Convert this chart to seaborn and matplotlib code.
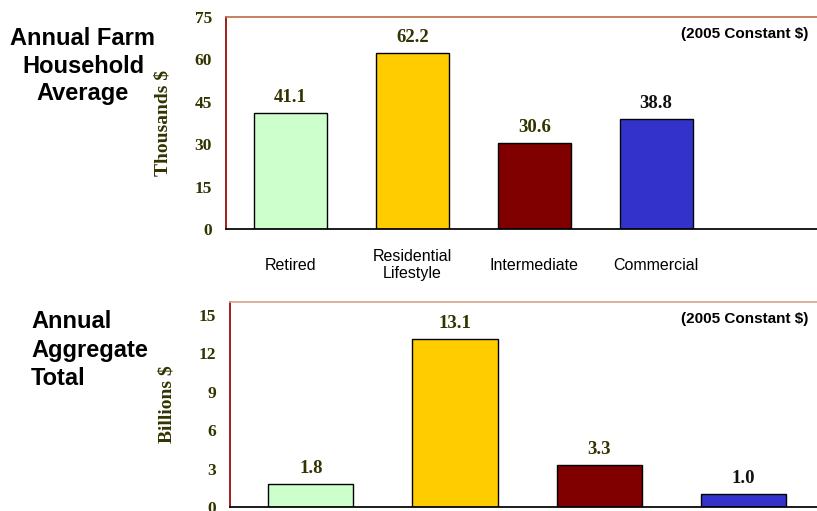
import seaborn as sns
import matplotlib.pyplot as plt

CATEGORIES = ["Retired", "Residential\nLifestyle", "Intermediate", "Commercial"]
AVERAGE_THOUSANDS = [41.1, 62.2, 30.6, 38.8]
AGGREGATE_BILLIONS = [1.8, 13.1, 3.3, 1.0]
AVERAGE_TICKS = [0, 15, 30, 45, 60, 75]
AGGREGATE_TICKS = [0, 3, 6, 9, 12, 15]
COLORS = ["#CCFFCC", "#FFCC00", "#800000", "#3333CC"]
LABEL_COLORS = ["#333300", "#333300", "#333300", "#111111"]

W, H = 817, 511
OLIVE = "#333300"
SERIF = "Liberation Serif"
SANS = "Liberation Sans"


def px_rect(left, top, right, bottom):
    return [left / W, 1 - bottom / H, (right - left) / W, (bottom - top) / H]


def draw_panel(ax, values, ticks, ylim, xlim, width, ylabel, top_color):
    sns.barplot(x=CATEGORIES, y=values, hue=CATEGORIES, palette=COLORS,
                legend=False, width=width, edgecolor="black", linewidth=1,
                saturation=1, ax=ax)
    ax.set_ylim(*ylim)
    ax.set_xlim(*xlim)
    ax.set_yticks(ticks)
    ax.set_yticklabels([str(t) for t in ticks], fontfamily=SERIF,
                       fontweight="bold", fontsize=12.5, color=OLIVE)
    ax.tick_params(axis="y", length=4, width=1, color="#cc3333", pad=6)
    ax.set_ylabel(ylabel, fontfamily=SERIF, fontweight="bold", fontsize=14,
                  color=OLIVE)
    for side in ["left", "top", "bottom", "right"]:
        ax.spines[side].set_visible(True)
    ax.spines["left"].set_color("#990000")
    ax.spines["top"].set_color(top_color)
    ax.spines["bottom"].set_color("black")
    ax.spines["right"].set_visible(False)
    for container, c in zip(ax.containers, LABEL_COLORS):
        ax.bar_label(container, fmt="%.1f", padding=5, fontfamily=SERIF,
                     fontweight="bold", fontsize=13.5, color=c)
    ax.text(0.985, 0.9, "(2005 Constant $)", transform=ax.transAxes,
            ha="right", va="baseline", fontfamily=SANS, fontweight="bold",
            fontsize=11, color="black")


def main():
    sns.set_theme(style="white")
    fig = plt.figure(figsize=(W / 100, H / 100), dpi=100)

    # Farm household average
    ax1 = fig.add_axes(px_rect(226, 17, 817, 229))
    draw_panel(ax1, AVERAGE_THOUSANDS, AVERAGE_TICKS, (0, 75), (-0.53, 4.32),
               0.6, "Thousands $", "#c0704d")
    ax1.yaxis.set_label_coords(-0.093, 0.5)
    ax1.tick_params(axis="x", length=0, pad=26)
    for lab in ax1.get_xticklabels():
        lab.set_fontfamily(SANS)
        lab.set_fontsize(11.5)
        lab.set_color("black")
        lab.set_verticalalignment("center")
        lab.set_linespacing(1.15)

    # Aggregate total
    ax2 = fig.add_axes(px_rect(230, 302, 817, 507))
    draw_panel(ax2, AGGREGATE_BILLIONS, AGGREGATE_TICKS, (0, 16),
               (-0.56, 3.51), 0.59, "Billions $", "#d8a890")
    ax2.yaxis.set_label_coords(-0.092, 0.5)
    ax2.set_xticks([])
    ax2.set_xlabel("")

    title_kw = dict(fontfamily=SANS, fontweight="bold", fontsize=17,
                    va="baseline", color="black")
    for text, y in zip(["Annual Farm", "Household", "Average"], [45, 73, 100]):
        fig.text(83 / W, 1 - y / H, text, ha="center", **title_kw)
    for text, y in zip(["Annual", "Aggregate", "Total"], [328, 357, 385]):
        fig.text(31 / W, 1 - y / H, text, ha="left", **title_kw)

    fig.savefig("out.png", dpi=100)
    plt.close(fig)


if __name__ == "__main__":
    main()
